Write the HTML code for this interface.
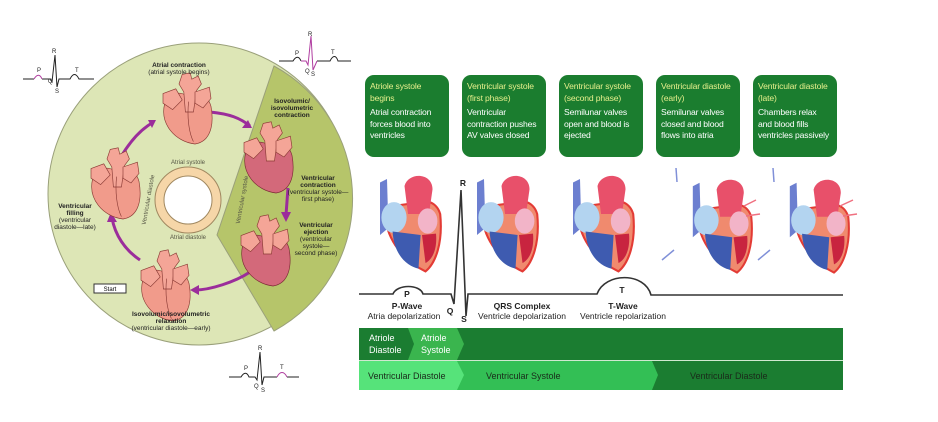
<!DOCTYPE html>
<html><head><meta charset="utf-8"><style>
body{margin:0;background:#fff;width:938px;height:422px;overflow:hidden;font-family:"Liberation Sans",sans-serif}
.box{position:absolute;top:75px;width:84px;height:82px;background:#1b7d2f;border-radius:9px;color:#fff;font-size:8.6px;line-height:11.6px;padding:6px 0 0 5px;box-sizing:border-box;letter-spacing:-0.15px;white-space:nowrap}
.box b{display:block;color:#e6ef8c;font-weight:normal;margin-bottom:3px}
</style></head><body>
<svg width="938" height="422" style="position:absolute;left:0;top:0" font-family="Liberation Sans, sans-serif">
<defs>
<g id="lh">
<path d="M-28,-5 C-34,20 -15,42 10,45 C30,42 34,20 30,-2 C26,-18 10,-20 0,-15 C-10,-22 -24,-18 -28,-5Z" fill="#f19b8b" stroke="#8a3a34" stroke-width="0.8"/>
<path d="M-10,-30 L-6,-42 L4,-44 L6,-36 L14,-40 L18,-30 L12,-22 L8,5 L-2,5 L-4,-20Z" fill="#f4a597" stroke="#8a3a34" stroke-width="0.8"/>
<path d="M-30,-18 L-14,-24 L-6,-10 L-18,2 L-30,-6Z" fill="#f4a597" stroke="#8a3a34" stroke-width="0.8"/>
<path d="M10,-20 L28,-26 L30,-12 L20,0 L10,-6Z" fill="#f4a597" stroke="#8a3a34" stroke-width="0.8"/>
<path d="M2,-8 C0,10 2,30 8,42" fill="none" stroke="#8a3a34" stroke-width="0.8"/>
</g>
<g id="lhd">
<path d="M-28,-5 C-34,20 -15,42 10,45 C30,42 34,20 30,-2 C26,-18 10,-20 0,-15 C-10,-22 -24,-18 -28,-5Z" fill="#d3697a" stroke="#7a2a34" stroke-width="0.8"/>
<path d="M-10,-30 L-6,-42 L4,-44 L6,-36 L14,-40 L18,-30 L12,-22 L8,5 L-2,5 L-4,-20Z" fill="#f4a597" stroke="#8a3a34" stroke-width="0.8"/>
<path d="M-30,-18 L-14,-24 L-6,-10 L-18,2 L-30,-6Z" fill="#f4a597" stroke="#8a3a34" stroke-width="0.8"/>
<path d="M10,-20 L28,-26 L30,-12 L20,0 L10,-6Z" fill="#f4a597" stroke="#8a3a34" stroke-width="0.8"/>
</g>
<g id="rh">
<path d="M-32,0 C-36,40 -10,75 25,92 C40,80 50,50 46,10 C40,-10 20,-12 5,-5 Z" fill="#f08a6e" stroke="#e33b35" stroke-width="3"/>
<path d="M-5,-30 C0,-50 35,-50 35,-25 L30,10 L0,10Z" fill="#e8506a"/>
<path d="M-40,-35 L-30,-40 L-28,30 L-40,40Z" fill="#6c7fd0"/>
<ellipse cx="-20" cy="15" rx="18" ry="22" fill="#b3d4f0"/>
<path d="M-22,35 C-20,70 0,85 15,88 L18,40 Z" fill="#3e5bb0"/>
<ellipse cx="28" cy="20" rx="14" ry="18" fill="#f2b4c8"/>
<path d="M20,40 L40,38 C42,60 35,75 25,80Z" fill="#c8243f"/>
</g>
</defs>
<circle cx="199" cy="194" r="151" fill="#dde6b6" stroke="#9aa07a" stroke-width="1"/>
<path d="M274,66 A151,151 0 0 1 274,331 L217,235 Z" fill="#b6c56a" stroke="#9aa07a"/>
<circle cx="188" cy="200" r="33" fill="#f6d6a8" stroke="#a08860"/>
<circle cx="188" cy="200" r="24" fill="#fff" stroke="#a08860"/>
<text x="188" y="164" font-size="6" text-anchor="middle" fill="#554">Atrial systole</text>
<text x="188" y="239" font-size="6" text-anchor="middle" fill="#554">Atrial diastole</text>
<text x="150" y="200" font-size="6" fill="#554" transform="rotate(-80 150 200)" text-anchor="middle">Ventricular diastole</text>
<text x="244" y="200" font-size="6" fill="#554" transform="rotate(-80 244 200)" text-anchor="middle">Ventricular systole</text>
<g fill="none" stroke="#9b2d9b" stroke-width="3">
<path d="M210,112 C230,114 240,118 250,126"/>
<path d="M288,188 L286,215"/>
<path d="M250,272 C235,282 210,290 195,290"/>
<path d="M140,260 C125,250 115,235 112,218"/>
<path d="M122,155 C130,142 140,130 152,123"/>
</g>
<g fill="#9b2d9b">
<path d="M252,128 L242,128 L248,120Z"/>
<path d="M286,222 L281,212 L291,212Z"/>
<path d="M190,290 L199,285 L199,295Z"/>
<path d="M111,212 L107,222 L117,222Z"/>
<path d="M156,120 L148,120 L152,128Z"/>
</g>
<use href="#lh" transform="translate(187,108) scale(0.8)"/>
<use href="#lhd" transform="translate(268,157) scale(0.8)"/>
<use href="#lhd" transform="translate(265,250) scale(0.8)"/>
<use href="#lh" transform="translate(165,285) scale(0.8)"/>
<use href="#lh" transform="translate(115,183) scale(0.8)"/>
<g font-size="6.5" text-anchor="middle" fill="#222">
<text x="179" y="67" font-weight="bold">Atrial contraction</text>
<text x="179" y="74">(atrial systole begins)</text>
<text x="292" y="103" font-weight="bold">Isovolumic/</text>
<text x="292" y="110" font-weight="bold">isovolumetric</text>
<text x="292" y="117" font-weight="bold">contraction</text>
<text x="318" y="180" font-weight="bold">Ventricular</text>
<text x="318" y="187" font-weight="bold">contraction</text>
<text x="318" y="194">(ventricular systole—</text>
<text x="318" y="201">first phase)</text>
<text x="316" y="227" font-weight="bold">Ventricular</text>
<text x="316" y="234" font-weight="bold">ejection</text>
<text x="316" y="241">(ventricular</text>
<text x="316" y="248">systole—</text>
<text x="316" y="255">second phase)</text>
<text x="75" y="208" font-weight="bold">Ventricular</text>
<text x="75" y="215" font-weight="bold">filling</text>
<text x="75" y="222">(ventricular</text>
<text x="75" y="229">diastole—late)</text>
<text x="171" y="316" font-weight="bold">Isovolumic/isovolumetric</text>
<text x="171" y="323" font-weight="bold">relaxation</text>
<text x="171" y="330">(ventricular diastole—early)</text>
</g>
<rect x="94" y="284" width="32" height="9" fill="#fff" stroke="#333"/>
<text x="110" y="291" font-size="6" text-anchor="middle">Start</text>
<g fill="none" stroke="#222" stroke-width="1">
<path d="M23,79 L34,79 M42,79 L50,79 L52,82 L55,55 L57,87 L59,79 L70,79 C73,73 76,73 79,79 L94,79"/>
<path d="M279,61 L293,61 C296,56 299,56 301,61 M317,61 L330,61 C333,55 336,55 338,61 L351,61"/>
<path d="M229,377 L241,377 C244,372 247,372 249,377 L255,377 L257,380 L260,352 L262,385 L264,377 L277,377 M287,377 L299,377"/>
</g>
<path d="M34,79 C37,74 40,74 42,79" fill="none" stroke="#b03da0"/>
<path d="M301,61 L306,61 L308,65 L311,36 L313,70 L317,61" fill="none" stroke="#b03da0"/>
<path d="M277,377 C280,371 284,371 287,377" fill="none" stroke="#b03da0"/>
<g font-size="6" fill="#222">
<text x="37" y="72">P</text><text x="52" y="53">R</text><text x="48" y="83">Q</text><text x="55" y="93">S</text><text x="75" y="72">T</text>
<text x="295" y="55">P</text><text x="308" y="36">R</text><text x="305" y="73">Q</text><text x="311" y="76">S</text><text x="331" y="54">T</text>
<text x="244" y="370">P</text><text x="258" y="350">R</text><text x="254" y="388">Q</text><text x="261" y="392">S</text><text x="280" y="369">T</text>
</g>
<use href="#rh" transform="translate(408,207) scale(0.7)"/>
<use href="#rh" transform="translate(505,207) scale(0.7)"/>
<use href="#rh" transform="translate(601,207) scale(0.7)"/>
<use href="#rh" transform="translate(720,210) scale(0.68)"/>
<use href="#rh" transform="translate(817,210) scale(0.68)"/>
<g stroke="#8090d8" stroke-width="1.5" fill="none"><path d="M676,168 L677,182 M773,168 L774,182 M662,260 L674,250 M758,260 L770,250"/></g>
<g stroke="#f07080" stroke-width="1.5" fill="none"><path d="M756,200 L744,206 M760,214 L746,216 M853,200 L840,206 M857,214 L843,216"/></g>
<path d="M359,294 L393,294 C397,284 420,284 423,294 L451,294 L454,304 L461,190 L466,316 L468,294 L597,294 C605,272 645,272 651,295 L843,295" fill="none" stroke="#333" stroke-width="1.6"/>
<g font-size="8.5" text-anchor="middle" fill="#222">
<text x="407" y="297" font-weight="bold">P</text>
<text x="463" y="186" font-weight="bold">R</text>
<text x="450" y="314" font-weight="bold">Q</text>
<text x="464" y="322" font-weight="bold">S</text>
<text x="622" y="293" font-weight="bold">T</text>
<text x="407" y="309" font-weight="bold">P-Wave</text>
<text x="404" y="319">Atria depolarization</text>
<text x="522" y="309" font-weight="bold">QRS Complex</text>
<text x="522" y="319">Ventricle depolarization</text>
<text x="623" y="309" font-weight="bold">T-Wave</text>
<text x="623" y="319">Ventricle repolarization</text>
</g>
<rect x="359" y="328" width="484" height="32" fill="#1b7d31"/>
<path d="M408,328 L457,328 L464,344 L457,360 L408,360 L414,344Z" fill="#3ab54e"/>
<rect x="359" y="360" width="484" height="1" fill="#d0e8d0"/>
<rect x="359" y="361" width="484" height="29" fill="#1b7d31"/>
<path d="M457,361 L652,361 L658,375 L652,390 L457,390Z" fill="#33bf55"/>
<path d="M359,361 L457,361 L464,375 L457,390 L359,390Z" fill="#56e37a"/>
<g font-size="9" fill="#fff">
<text x="369" y="341">Atriole</text><text x="369" y="353">Diastole</text>
<text x="421" y="341">Atriole</text><text x="421" y="353">Systole</text>
</g>
<g font-size="9" fill="#1a2a1a">
<text x="368" y="379">Ventricular Diastole</text>
<text x="486" y="379">Ventricular Systole</text>
<text x="690" y="379">Ventricular Diastole</text>
</g>
</svg>
<div class="box" style="left:365px"><b>Atriole systole<br>begins</b>Atrial contraction<br>forces blood into<br>ventricles</div>
<div class="box" style="left:462px"><b>Ventricular systole<br>(first phase)</b>Ventricular<br>contraction pushes<br>AV valves closed</div>
<div class="box" style="left:559px"><b>Ventricular systole<br>(second phase)</b>Semilunar valves<br>open and blood is<br>ejected</div>
<div class="box" style="left:656px"><b>Ventricular diastole<br>(early)</b>Semilunar valves<br>closed and blood<br>flows into atria</div>
<div class="box" style="left:753px"><b>Ventricular diastole<br>(late)</b>Chambers relax<br>and blood fills<br>ventricles passively</div>
</body></html>
